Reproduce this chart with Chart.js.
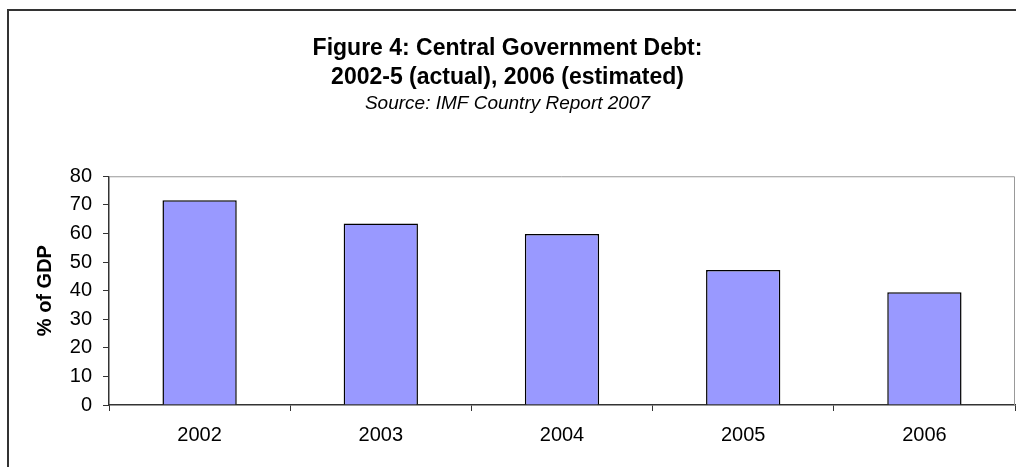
<!DOCTYPE html>
<html>
<head>
<meta charset="utf-8">
<script src="https://cdn.jsdelivr.net/npm/chart.js@4"></script>
<style>
  html, body { margin: 0; padding: 0; background: #fff; }
  #wrap { width: 1016px; height: 467px; position: relative; }
</style>
</head>
<body>
<div id="wrap"><canvas id="debtChart" width="1016" height="467"></canvas></div>
<script>
    // Data
    const years = ['2002', '2003', '2004', '2005', '2006'];
    const debtPct = [71.6, 63.5, 59.8, 47.2, 39.4];
    const yTicks = [0, 10, 20, 30, 40, 50, 60, 70, 80];

    const FONT = "'Liberation Sans', Arial, sans-serif";

    // outer frame + top/right plot border like the Excel original
    const frame = {
        id: 'frame',
        beforeDraw(chart) {
            const c = chart.ctx;
            c.save();
            c.fillStyle = '#fff';
            c.fillRect(0, 0, chart.width, chart.height);
            c.strokeStyle = '#333';
            c.lineWidth = 2;
            c.beginPath();
            c.moveTo(8, chart.height);
            c.lineTo(8, 10);
            c.lineTo(chart.width, 10);
            c.stroke();
            c.restore();
        },
        afterDatasetsDraw(chart) {
            const a = chart.chartArea, c = chart.ctx;
            c.save();
            c.strokeStyle = '#999';
            c.lineWidth = 1;
            c.beginPath();
            c.moveTo(a.left, a.top + 0.5);
            c.lineTo(a.right - 0.5, a.top + 0.5);
            c.lineTo(a.right - 0.5, a.bottom);
            c.stroke();
            c.restore();
        }
    };

    const ctx = document.getElementById('debtChart').getContext('2d');
    const debtChart = new Chart(ctx, {
        type: 'bar',
        data: {
            labels: years,
            datasets: [{
                label: '% of GDP',
                data: debtPct,
                backgroundColor: '#9999ff',
                borderColor: '#000',
                borderWidth: 1.5,
                barPercentage: 0.41,
                categoryPercentage: 1
            }]
        },
        plugins: [frame],
        options: {
            responsive: false,
            animation: false,
            layout: { padding: { left: 0, right: 1, top: 0, bottom: 0 } },
            plugins: {
                legend: { display: false },
                tooltip: { enabled: false },
                title: {
                    display: true,
                    text: ['Figure 4: Central Government Debt:', '2002-5 (actual), 2006 (estimated)'],
                    color: '#000',
                    font: { family: FONT, size: 23, weight: 'bold', lineHeight: 1.26 },
                    padding: { top: 34.5, bottom: 0 }
                },
                subtitle: {
                    display: true,
                    text: 'Source: IMF Country Report 2007',
                    color: '#000',
                    font: { family: FONT, size: 19, style: 'italic', lineHeight: 1.2 },
                    padding: { top: 0, bottom: 61 }
                }
            },
            scales: {
                x: {
                    afterFit(s) { s.height = 62; },
                    grid: {
                        offset: true,
                        drawOnChartArea: false,
                        drawTicks: true,
                        tickLength: 6,
                        tickColor: '#333'
                    },
                    border: { display: true, color: '#333', width: 1.5 },
                    ticks: { color: '#000', font: { family: FONT, size: 20 }, padding: 12 }
                },
                y: {
                    min: 0,
                    max: 80,
                    afterFit(s) { s.width = 109; },
                    afterBuildTicks(s) { s.ticks = yTicks.map(v => ({ value: v })); },
                    grid: {
                        drawOnChartArea: false,
                        drawTicks: true,
                        tickLength: 6,
                        tickColor: '#333'
                    },
                    border: { display: true, color: '#333', width: 1.5 },
                    ticks: { color: '#000', font: { family: FONT, size: 20 }, padding: 11 },
                    title: {
                        display: true,
                        text: '% of GDP',
                        color: '#000',
                        font: { family: FONT, size: 20, weight: 'bold' },
                        padding: { top: 33, bottom: 0 }
                    }
                }
            }
        }
    });
</script>
</body>
</html>
